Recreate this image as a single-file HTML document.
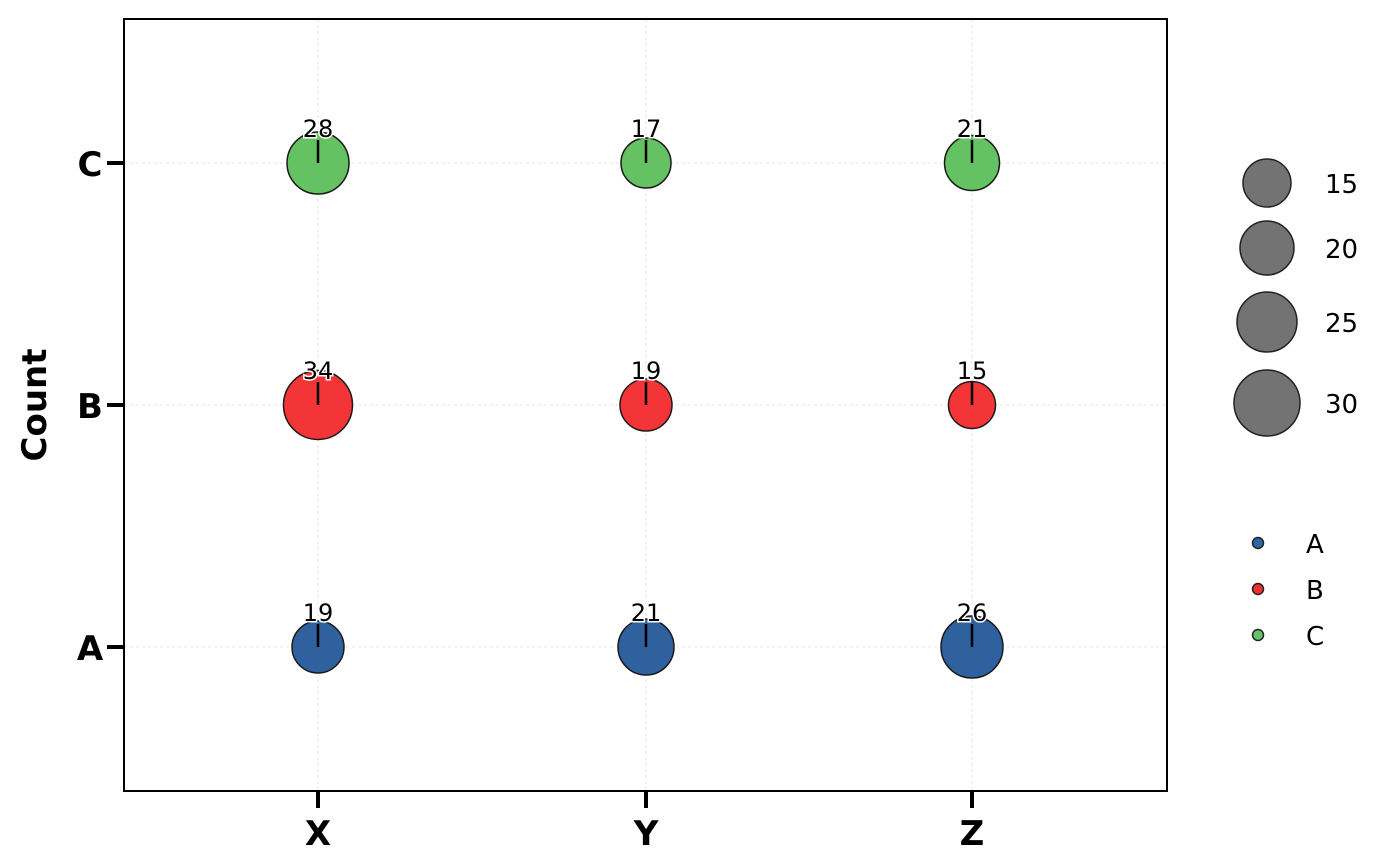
<!DOCTYPE html>
<html><head><style>body{margin:0;background:#fff}svg{display:block}text{font-family:"DejaVu Sans","Liberation Sans",sans-serif}</style></head><body>
<svg width="1400" height="866" viewBox="0 0 1400 866">
<g stroke="#e6e6e6" stroke-width="1" stroke-dasharray="3,3">
<line x1="318" y1="19" x2="318" y2="791"/><line x1="646" y1="19" x2="646" y2="791"/><line x1="972" y1="19" x2="972" y2="791"/>
<line x1="124" y1="163" x2="1167" y2="163"/><line x1="124" y1="405" x2="1167" y2="405"/><line x1="124" y1="647" x2="1167" y2="647"/>
</g>
<rect x="124" y="19" width="1043" height="772" fill="none" stroke="#000" stroke-width="2"/>
<g stroke="#000" stroke-width="4">
<line x1="318" y1="791" x2="318" y2="808"/><line x1="646" y1="791" x2="646" y2="808"/><line x1="972" y1="791" x2="972" y2="808"/>
<line x1="107" y1="163" x2="124" y2="163"/><line x1="107" y1="405" x2="124" y2="405"/><line x1="107" y1="647" x2="124" y2="647"/>
</g>
<g font-size="34" font-weight="bold" text-anchor="middle" fill="#000">
<text x="318" y="845">X</text><text x="646" y="845">Y</text><text x="972" y="845">Z</text>
<text x="90" y="176">C</text><text x="90" y="418">B</text><text x="90" y="660">A</text>
<text transform="translate(46,405) rotate(-90)">Count</text>
</g>
<g stroke="#1a1a1a" stroke-width="1.5" fill-opacity="0.95">
<circle cx="318" cy="163" r="31" fill="#5dbf5a"/><circle cx="646" cy="163" r="25" fill="#5dbf5a"/><circle cx="972" cy="163" r="27.5" fill="#5dbf5a"/>
<circle cx="318" cy="405" r="34.5" fill="#f22a2c"/><circle cx="646" cy="405" r="26" fill="#f22a2c"/><circle cx="972" cy="405" r="23.5" fill="#f22a2c"/>
<circle cx="318" cy="647" r="26" fill="#24599a"/><circle cx="646" cy="647" r="28" fill="#24599a"/><circle cx="972" cy="647" r="31" fill="#24599a"/>
</g>
<g stroke="#000" stroke-width="2.5">
<line x1="318" y1="140" x2="318" y2="163"/><line x1="646" y1="140" x2="646" y2="163"/><line x1="972" y1="140" x2="972" y2="163"/>
<line x1="318" y1="382" x2="318" y2="405"/><line x1="646" y1="382" x2="646" y2="405"/><line x1="972" y1="382" x2="972" y2="405"/>
<line x1="318" y1="624" x2="318" y2="647"/><line x1="646" y1="624" x2="646" y2="647"/><line x1="972" y1="624" x2="972" y2="647"/>
</g>
<g font-size="24" text-anchor="middle" fill="#000" stroke="#fff" stroke-width="3" paint-order="stroke">
<text x="318" y="137">28</text><text x="646" y="137">17</text><text x="972" y="137">21</text>
<text x="318" y="379">34</text><text x="646" y="379">19</text><text x="972" y="379">15</text>
<text x="318" y="621">19</text><text x="646" y="621">21</text><text x="972" y="621">26</text>
</g>
<g fill="#737373" stroke="#222" stroke-width="1.5">
<circle cx="1267" cy="183" r="24"/><circle cx="1267" cy="248" r="27"/><circle cx="1267" cy="322" r="30"/><circle cx="1267" cy="403" r="33"/>
</g>
<g font-size="26" fill="#000">
<text x="1325" y="193">15</text><text x="1325" y="258">20</text><text x="1325" y="332">25</text><text x="1325" y="413">30</text>
<text x="1306" y="553">A</text><text x="1306" y="599">B</text><text x="1306" y="645">C</text>
</g>
<g stroke="#222" stroke-width="1.5">
<circle cx="1258" cy="543" r="5.5" fill="#2f66a6"/><circle cx="1258" cy="589" r="5.5" fill="#f03030"/><circle cx="1258" cy="635" r="5.5" fill="#66c465"/>
</g>
</svg>
</body></html>
